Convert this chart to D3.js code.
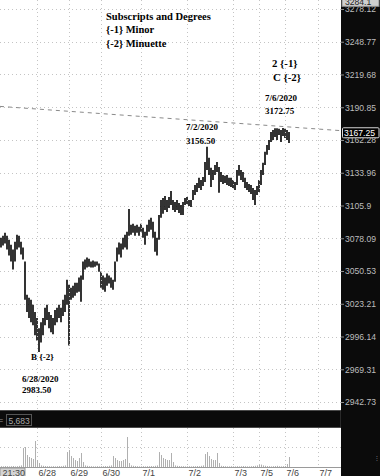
<!DOCTYPE html>
<html><head><meta charset="utf-8">
<script src="https://cdn.jsdelivr.net/npm/d3@7"></script>
<style>html,body{margin:0;padding:0;background:#fff;overflow:hidden}</style>
</head><body><svg id="c" width="380" height="476"></svg>
<script>
// ---- data ----
const highs = [3078.6,3080.3,3082.8,3080.3,3076.9,3072.7,3068.5,3075.2,3081.1,3080.3,3075.2,3070.2,3058.4,3030.7,3028.2,3026.5,3022.3,3016.4,3011.4,3003.0,
3008.0,3011.4,3019.8,3022.3,3016.4,3013.9,3011.4,3018.1,3019.8,3022.3,3019.8,3026.5,3030.7,3043.3,3039.1,3036.6,3038.3,3040.8,3040.8,3045.0,
3046.7,3058.4,3060.1,3061.8,3060.9,3058.4,3059.3,3058.4,3058.4,3056.8,3050.0,3046.7,3045.0,3048.4,3046.7,3045.0,3043.3,3058.4,3070.2,3074.4,
3073.6,3078.6,3081.1,3083.6,3102.9,3089.5,3090.4,3088.7,3089.5,3087.8,3090.4,3087.0,3083.6,3089.5,3093.7,3095.4,3092.0,3083.6,3078.6,3097.9,
3110.5,3112.3,3114.0,3110.5,3113.2,3118.4,3110.5,3108.8,3110.5,3108.0,3106.3,3108.8,3112.3,3113.2,3110.5,3110.5,3119.2,3123.5,3125.2,3129.6,
3127.8,3130.4,3143.3,3156.5,3146.8,3138.2,3136.4,3140.7,3143.3,3139.0,3134.7,3132.1,3131.3,3132.1,3129.6,3129.6,3127.8,3126.1,3136.4,3140.7,
3136.4,3134.7,3129.6,3126.1,3124.4,3123.5,3120.9,3119.2,3122.6,3127.8,3136.4,3142.5,3152.0,3158.0,3162.3,3169.2,3170.9,3172.5,3172.6,3172.0,
3170.9,3172.75,3172.0,3171.0,3169.2];
const lows = [3070.2,3071.9,3073.6,3068.5,3063.5,3058.4,3051.7,3058.4,3068.5,3070.2,3064.3,3060.1,3026.5,3016.4,3011.4,3008.0,3005.5,2997.1,2992.9,2983.5,
2991.2,2997.1,3005.5,3009.7,3003.0,2999.6,2998.0,3005.5,3008.0,3011.4,3008.0,3013.1,3016.4,3022.3,2988.7,3026.5,3028.2,3029.9,3032.4,3033.2,
3024.8,3043.3,3051.7,3053.4,3054.2,3053.4,3053.4,3054.2,3055.1,3050.0,3036.6,3034.9,3033.2,3038.3,3040.0,3036.6,3034.9,3041.6,3058.4,3064.3,
3061.8,3068.5,3070.2,3068.5,3080.3,3081.1,3082.8,3080.3,3082.8,3080.3,3083.6,3078.6,3072.7,3080.3,3083.6,3085.3,3078.6,3066.8,3063.5,3076.9,
3095.4,3098.8,3102.1,3100.4,3103.8,3106.3,3102.1,3100.4,3102.1,3099.6,3097.9,3097.9,3106.3,3107.2,3105.5,3104.6,3110.5,3114.9,3117.5,3120.9,
3119.2,3122.6,3126.1,3136.4,3132.1,3121.8,3127.8,3132.1,3134.7,3116.7,3126.1,3124.4,3125.2,3123.5,3122.6,3121.8,3120.9,3119.2,3123.5,3131.3,
3127.8,3126.1,3120.9,3119.2,3117.5,3115.8,3110.5,3106.3,3114.9,3117.5,3123.5,3132.1,3140.7,3149.4,3153.7,3160.6,3162.3,3164.9,3162.3,3166.6,
3160.6,3165.7,3164.0,3162.3,3159.7];
const volumes = [10,8,12,10,8,10,12,8,10,14,20,237,250,150,125,112,100,325,87,50,
20,15,12,10,10,8,10,8,10,12,10,15,20,187,212,137,112,87,75,112,
175,62,20,15,10,10,8,8,10,8,10,10,12,10,15,20,137,112,87,75,
75,87,100,375,50,20,15,12,10,8,8,10,8,10,10,12,10,15,20,187,
150,112,100,87,87,175,62,20,15,12,10,10,8,8,10,8,10,10,12,10,
15,20,162,187,137,100,87,87,175,50,15,12,10,8,8,10,8,8,10,8,
10,12,10,8,8,10,12,15,20,25,30,20,15,12,10,8,10,12,15,10,
8,10,12,37,125];
const priceTicks = [3278.12,3248.77,3219.68,3190.85,3162.28,3133.96,3105.9,3078.09,3050.53,3023.21,2996.14,2969.31,2942.73];
const dateTickIdx = [0,18,34,50,70,93,116,129,142,158.5];
const dateTickLabels = ["21:30","6/28","6/29","6/30","7/1","7/2","7/3","7/5","7/6","7/7"];
const volTicks = [0,250];
const trendIdx = [-0.5,170];
const trendPrice = [3191.6,3170.4];
const lastPrice = 3167.25;
const topPrice = 3284.1;
const volumeTotalLabel = "5,683";

// ---- layout ----
const svg = d3.select("#c");
const plotW = 341, mainTop = 0, mainBot = 410, volTop = 428, volBot = 467;
const x = d3.scaleLinear().domain([-0.5,170]).range([0,plotW]);
const y = d3.scaleLog().domain([2936.28,3286.23]).range([mainBot,mainTop]);
const yv = d3.scaleLinear().domain([0,250]).range([volBot,447]);

svg.append("rect").attr("width",380).attr("height",476).attr("fill","#fff");
const defs = svg.append("defs");
defs.append("clipPath").attr("id","mainClip").append("rect").attr("x",0).attr("y",mainTop).attr("width",plotW).attr("height",mainBot-mainTop);
defs.append("clipPath").attr("id","axClip").append("rect").attr("x",341).attr("y",0).attr("width",39).attr("height",volBot);

const grid = "#c4c4c4";
const gMain = svg.append("g").attr("clip-path","url(#mainClip)");
gMain.selectAll("line.hg").data(priceTicks).join("line")
  .attr("x1",0).attr("x2",plotW).attr("y1",d=>Math.round(y(d))+0.5).attr("y2",d=>Math.round(y(d))+0.5)
  .attr("stroke",grid).attr("stroke-dasharray","1,3");
const vgIdx = dateTickIdx.slice(1);
svg.append("g").selectAll("line").data(vgIdx).join("line")
  .attr("x1",d=>Math.round(x(d))+0.5).attr("x2",d=>Math.round(x(d))+0.5).attr("y1",0).attr("y2",volBot)
  .attr("stroke",grid).attr("stroke-dasharray","1,3");
svg.append("line").attr("x1",0).attr("x2",plotW).attr("y1",Math.round(yv(250))+0.5).attr("y2",Math.round(yv(250))+0.5)
  .attr("stroke",grid).attr("stroke-dasharray","1,3");

// trend line
gMain.append("line").attr("x1",x(trendIdx[0])).attr("y1",y(trendPrice[0])).attr("x2",x(trendIdx[1])).attr("y2",y(trendPrice[1]))
  .attr("stroke","#8a8a8a").attr("stroke-width",1).attr("stroke-dasharray","4,4");

// price bars
gMain.selectAll("line.bar").data(highs).join("line").attr("class","bar")
  .attr("x1",(d,i)=>x(i)).attr("x2",(d,i)=>x(i))
  .attr("y1",d=>y(d)).attr("y2",(d,i)=>y(lows[i]))
  .attr("stroke","#000").attr("stroke-width",1.6);

// volume bars
svg.append("g").selectAll("rect").data(volumes).join("rect")
  .attr("x",(d,i)=>Math.round(x(i))).attr("width",1)
  .attr("y",d=>yv(d)).attr("height",d=>volBot-yv(d))
  .attr("fill","#b0b0b0");

// separator black bar
svg.append("rect").attr("x",-1).attr("y",410.5).attr("width",342).attr("height",17).attr("fill","#0b0b0b").attr("stroke","#4a4a4a");
svg.append("rect").attr("x",6.5).attr("y",414.5).attr("width",25).attr("height",11).attr("fill","#0b0b0b").attr("stroke","#555");
svg.append("text").attr("x",8.5).attr("y",423.5).attr("fill","#a8a8a8").attr("font-family","Liberation Sans, Arial, sans-serif").attr("font-size",8.5).text(volumeTotalLabel);
svg.append("text").attr("x",-1.5).attr("y",423).attr("fill","#999").attr("font-family","Liberation Sans, Arial, sans-serif").attr("font-size",8).text("=");

// bottom strip
svg.append("line").attr("x1",0).attr("x2",plotW).attr("y1",volBot+0.5).attr("y2",volBot+0.5).attr("stroke","#9a9a9a");
svg.append("rect").attr("x",0).attr("y",468).attr("width",25).attr("height",9).attr("fill","#d4d4d4").attr("stroke","#999");
const xAxis = d3.axisBottom(x).tickValues(dateTickIdx).tickFormat((d,i)=>dateTickLabels[i]).tickSize(0).tickPadding(0);
const gx = svg.append("g").attr("transform",`translate(0,${volBot})`).call(xAxis);
gx.select(".domain").remove();
gx.selectAll("text").attr("text-anchor","start").attr("dx",1).attr("dy",0).attr("y",8.5)
  .attr("fill","#444").attr("font-family","Liberation Sans, Arial, sans-serif").attr("font-size",9);

// right panel
svg.append("rect").attr("x",341).attr("y",0).attr("width",39).attr("height",476).attr("fill","#0b0b0b");
const yAxis = d3.axisRight(y).tickValues(priceTicks).tickFormat(d=>String(d)).tickSize(3).tickPadding(1);
const gy = svg.append("g").attr("transform","translate(341,0)").call(yAxis);
gy.select(".domain").remove();
gy.selectAll("line").attr("stroke","#8a8a8a");
gy.selectAll("text").attr("fill","#bdbdbd").attr("font-family","Liberation Sans, Arial, sans-serif").attr("font-size",8.6).attr("dy","0.34em");
const vAxis = d3.axisRight(yv).tickValues(volTicks).tickSize(3).tickPadding(1);
const gv = svg.append("g").attr("transform","translate(341,0)").attr("clip-path","url(#axClip)").call(vAxis);
gv.select(".domain").remove();
gv.selectAll("line").attr("stroke","#8a8a8a");
gv.selectAll("text").attr("fill","#bdbdbd").attr("font-family","Liberation Sans, Arial, sans-serif").attr("font-size",8.6).attr("dy","0.34em");
svg.append("text").attr("x",376).attr("y",461).attr("fill","#888").attr("font-family","Liberation Sans, sans-serif").attr("font-size",7).text("⁝");

// top price box
const tpY = y(topPrice);
svg.append("rect").attr("x",342).attr("y",tpY-9).attr("width",37).attr("height",13).attr("fill","#cfcfcf").attr("stroke","#888");
svg.append("text").attr("x",345).attr("y",tpY+2.5).attr("fill","#222").attr("font-family","Liberation Sans, Arial, sans-serif").attr("font-size",8.6).text(String(topPrice));
// last price box
const lpY = y(lastPrice);
svg.append("rect").attr("x",342.5).attr("y",lpY-6.5).attr("width",36.5).attr("height",10).attr("fill","#000").attr("stroke","#d8d8d8").attr("rx",1);
svg.append("text").attr("x",344).attr("y",lpY+2).attr("fill","#fff").attr("font-family","Liberation Sans, Arial, sans-serif").attr("font-size",8.6).text(lastPrice.toFixed(2));

// annotations
const serif = "Liberation Serif, 'Times New Roman', serif";
function ann(tx,ty,txt,size){
  svg.append("text").attr("x",tx).attr("y",ty).attr("font-family",serif).attr("font-weight","bold").attr("font-size",size).attr("fill","#000").text(txt);
}
ann(106,19.5,"Subscripts and Degrees",10.5);
ann(106,33,"{-1} Minor",10.5);
ann(106,46.5,"{-2} Minuette",10.5);
ann(272,67,"2 {-1}",10.8);
ann(273,81,"C {-2}",10.8);
ann(265,101,"7/6/2020",9);
ann(265,114,"3172.75",9);
ann(186,130,"7/2/2020",9);
ann(186,143.5,"3156.50",9);
ann(31,360,"B {-2}",9);
ann(22,381.5,"6/28/2020",9);
ann(22,392.5,"2983.50",9);
</script></body></html>
